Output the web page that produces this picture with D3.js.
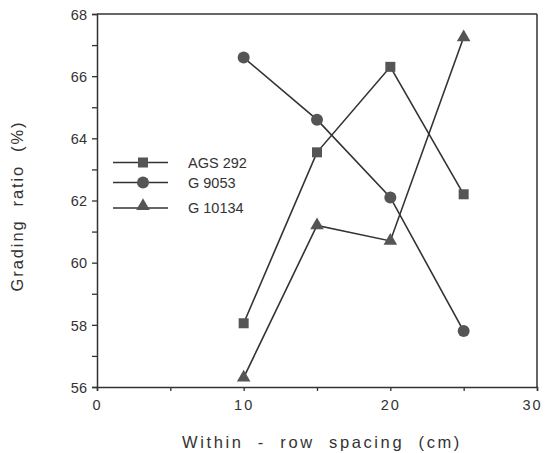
<!DOCTYPE html>
<html>
<head>
<meta charset="utf-8">
<script src="https://cdn.jsdelivr.net/npm/d3@7/dist/d3.min.js"></script>
<style>
  html, body { margin: 0; padding: 0; background: #fff; }
  svg { display: block; }
  text { font-family: "Liberation Sans", Arial, sans-serif; fill: #333; }
</style>
</head>
<body>
<svg id="chart" width="545" height="453"></svg>
<script>
// Within-row spacing (cm)
const spacing = [10, 15, 20, 25];
// Grading ratio (%) per genotype
const ags292 = [58.05, 63.55, 66.3, 62.2];
const g9053 = [66.6, 64.6, 62.1, 57.8];
const g10134 = [56.3, 61.2, 60.7, 67.25];
const seriesNames = ["AGS 292", "G 9053", "G 10134"];
const seriesShapes = ["square", "circle", "triangle"];
const xTicks = [0, 10, 20, 30];
const yTicks = [56, 58, 60, 62, 64, 66, 68];

const series = [ags292, g9053, g10134].map((vals, i) => ({
  name: seriesNames[i],
  shape: seriesShapes[i],
  points: spacing.map((s, j) => ({ x: s, y: vals[j] }))
}));

const svg = d3.select("#chart");
const ink = "#333";
const fillInk = "#555";

const x = d3.scaleLinear().domain([0, 30]).range([97, 537]);
const y = d3.scaleLinear().domain([56, 68]).range([387, 14]);

// frame: top and right edges
svg.append("line").attr("x1", x(0)).attr("x2", x(30)).attr("y1", y(68)).attr("y2", y(68))
  .attr("stroke", ink).attr("stroke-width", 1.5);
svg.append("line").attr("x1", x(30)).attr("x2", x(30)).attr("y1", y(68)).attr("y2", y(56))
  .attr("stroke", ink).attr("stroke-width", 1.5);

// y axis with a tick at every unit, labels on even values
const yAxis = d3.axisLeft(y).tickValues(d3.range(56, 69, 1)).tickSize(5).tickPadding(5)
  .tickFormat(d => yTicks.includes(d) ? d : "");
const gy = svg.append("g").attr("transform", `translate(${x(0)},0)`).call(yAxis);
gy.select(".domain").attr("stroke", ink).attr("stroke-width", 1.5);
gy.selectAll(".tick line").attr("stroke", ink).attr("stroke-width", 1.3);
gy.selectAll(".tick text").attr("font-size", 14.5).attr("fill", ink)
  .style("font-family", "'Liberation Sans', Arial, sans-serif").attr("dy", "0.36em");

// x axis with ticks every 5 cm
const xAxis = d3.axisBottom(x).tickValues(d3.range(0, 31, 5)).tickSize(4).tickPadding(9)
  .tickFormat(d => xTicks.includes(d) ? d : "");
const gx = svg.append("g").attr("transform", `translate(0,${y(56)})`).call(xAxis);
gx.select(".domain").attr("stroke", ink).attr("stroke-width", 1.5);
gx.selectAll(".tick line").attr("stroke", ink).attr("stroke-width", 1.3);
gx.selectAll(".tick text").attr("font-size", 14.5).attr("fill", ink)
  .attr("letter-spacing", "2px")
  .style("font-family", "'Liberation Sans', Arial, sans-serif")
  .attr("dx", d => d === 30 ? -5 : 0);

// axis titles
svg.append("text")
  .attr("x", 322).attr("y", 448)
  .attr("text-anchor", "middle")
  .attr("font-size", 16.5)
  .attr("letter-spacing", "2.6px")
  .style("white-space", "pre")
  .text("Within  -  row  spacing  (cm)");

svg.append("text")
  .attr("transform", "translate(23,206) rotate(-90)")
  .attr("text-anchor", "middle")
  .attr("font-size", 16.5)
  .attr("letter-spacing", "1.9px")
  .style("white-space", "pre")
  .text("Grading  ratio  (%)");

// marker drawing
function drawMarker(g, shape, cx, cy) {
  if (shape === "square") {
    g.append("rect").attr("x", cx - 5).attr("y", cy - 5).attr("width", 10).attr("height", 10)
      .attr("fill", fillInk);
  } else if (shape === "circle") {
    g.append("circle").attr("cx", cx).attr("cy", cy).attr("r", 6).attr("fill", fillInk);
  } else {
    const sym = d3.symbol().type(d3.symbolTriangle).size(80);
    g.append("path").attr("d", sym()).attr("transform", `translate(${cx},${cy})`)
      .attr("fill", fillInk);
  }
}

const line = d3.line().x(d => x(d.x)).y(d => y(d.y));
series.forEach(s => {
  svg.append("path").datum(s.points).attr("d", line)
    .attr("fill", "none").attr("stroke", ink).attr("stroke-width", 1.6);
});
series.forEach(s => {
  const g = svg.append("g");
  s.points.forEach(p => drawMarker(g, s.shape, x(p.x), y(p.y)));
});

// legend
const legendRows = [162.5, 182.5, 208];
series.forEach((s, i) => {
  const ly = legendRows[i];
  const g = svg.append("g");
  g.append("line").attr("x1", 113).attr("x2", 168).attr("y1", ly).attr("y2", ly)
    .attr("stroke", ink).attr("stroke-width", 1.6);
  drawMarker(g, s.shape, 143, s.shape === "triangle" ? ly - 2 : ly);
  g.append("text").attr("x", 188).attr("y", ly).attr("dy", "0.36em")
    .attr("font-size", 14.5).text(s.name);
});
</script>
</body>
</html>
